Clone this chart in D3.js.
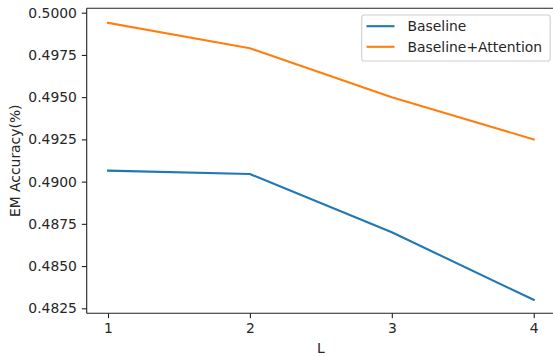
<!DOCTYPE html>
<html>
<head>
<meta charset="utf-8">
<script src="https://cdn.jsdelivr.net/npm/d3@7"></script>
<style>
  html, body { margin: 0; padding: 0; background: #fff; }
  svg { display: block; font-family: "DejaVu Sans", sans-serif; }
</style>
</head>
<body>
<svg id="chart" width="553" height="356"></svg>
<script>
const categories = [1, 2, 3, 4];
const baseline = [0.49065, 0.49045, 0.4870, 0.4830];
const attention = [0.4994, 0.4979, 0.4950, 0.4925];
const yTicks = [0.4825, 0.4850, 0.4875, 0.4900, 0.4925, 0.4950, 0.4975, 0.5000];
const seriesNames = ["Baseline", "Baseline+Attention"];
const colors = ["#1f77b4", "#ff7f0e"];

(function () {
const svg = d3.select("#chart");
const pL = 86.7, pR = 555, pT = 8.3, pB = 313.3;
const fs = 13.9;
const textColor = "#262626";

const x = d3.scaleLinear().domain([0.85, 4.15]).range([pL, pR]);
const yMin = 0.4825 - (313.3 - 308.3) / 42.23 * 0.0025;
const yMax = 0.5 + (12.7 - 8.3) / 42.23 * 0.0025;
const y = d3.scaleLinear().domain([yMin, yMax]).range([pB, pT]);

// lines
const line = d3.line().x((d, i) => x(categories[i])).y(d => y(d));
[baseline, attention].forEach((s, k) => {
  svg.append("path").datum(s)
    .attr("d", line)
    .attr("fill", "none")
    .attr("stroke", colors[k])
    .attr("stroke-width", 2.08)
    .attr("stroke-linecap", "square")
    .attr("stroke-linejoin", "round");
});

// axes
const xAxis = d3.axisBottom(x).tickValues(categories).tickFormat(d3.format("d"))
  .tickSize(4.9).tickPadding(4.9);
const yAxis = d3.axisLeft(y).tickValues(yTicks).tickFormat(d3.format(".4f"))
  .tickSize(4.9).tickPadding(4.9);

const gx = svg.append("g").attr("transform", `translate(0,${pB})`).call(xAxis);
const gy = svg.append("g").attr("transform", `translate(${pL},0)`).call(yAxis);
[gx, gy].forEach(g => {
  g.select(".domain").remove();
  g.selectAll(".tick line").attr("stroke", "#222").attr("stroke-width", 1.1);
  g.selectAll(".tick text").attr("fill", textColor).style("font-size", fs + "px")
    .style("font-family", "DejaVu Sans");
});

// spines
const spine = svg.append("g").attr("fill", "none").attr("stroke", "#222").attr("stroke-width", 1.1);
spine.append("line").attr("x1", pL).attr("x2", pL).attr("y1", pT).attr("y2", pB);
spine.append("line").attr("x1", pL).attr("x2", pR).attr("y1", pB).attr("y2", pB);
spine.append("line").attr("x1", pL).attr("x2", pR).attr("y1", pT).attr("y2", pT);
spine.append("line").attr("x1", pR).attr("x2", pR).attr("y1", pT).attr("y2", pB);

// axis labels
svg.append("text").attr("x", (pL + pR) / 2).attr("y", 352.5)
  .attr("text-anchor", "middle").attr("fill", textColor)
  .style("font-size", fs + "px").text("L");
svg.append("text")
  .attr("transform", `translate(20,${(pT + pB) / 2}) rotate(-90)`)
  .attr("text-anchor", "middle").attr("fill", textColor)
  .style("font-size", fs + "px").text("EM Accuracy(%)");

// legend
const lg = svg.append("g");
lg.append("rect").attr("x", 361.7).attr("y", 15).attr("width", 188.5).attr("height", 46)
  .attr("rx", 2.8).attr("fill", "#fff").attr("fill-opacity", 0.8)
  .attr("stroke", "#d0d0d0").attr("stroke-width", 1.1);
seriesNames.forEach((name, i) => {
  const yy = 26.2 + i * 20.6;
  lg.append("line").attr("x1", 366.5).attr("x2", 394.5).attr("y1", yy).attr("y2", yy)
    .attr("stroke", colors[i]).attr("stroke-width", 2.08);
  lg.append("text").attr("x", 407.5).attr("y", yy).attr("dy", "0.36em")
    .attr("fill", textColor).style("font-size", fs + "px").text(name);
});
})();
</script>
</body>
</html>
